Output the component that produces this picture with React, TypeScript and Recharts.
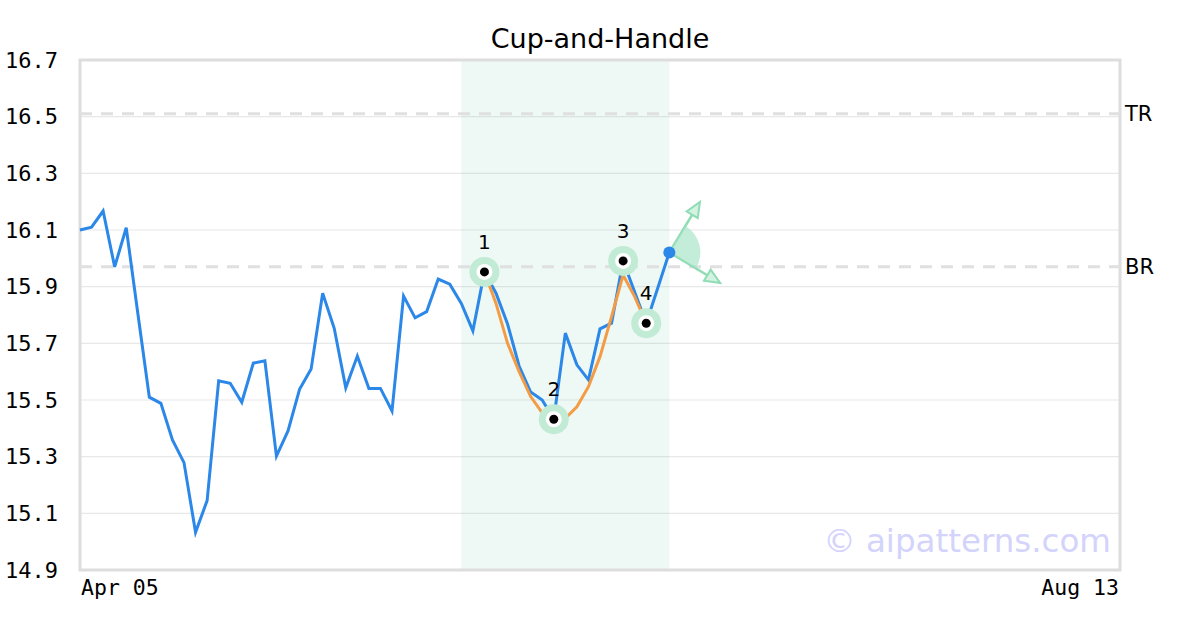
import {CartesianGrid, ComposedChart, Line, ReferenceArea, ReferenceDot, ReferenceLine, Scatter, XAxis, YAxis} from 'recharts';

// closing prices, one per trading day starting Apr 05
const prices = [
    16.10, 16.11, 16.167, 15.97, 16.108, 15.807, 15.51, 15.488, 15.359, 15.279,
    15.033, 15.145, 15.568, 15.559, 15.492, 15.63, 15.638, 15.302, 15.391, 15.538,
    15.609, 15.877, 15.753, 15.543, 15.655, 15.541, 15.541, 15.461, 15.867, 15.79,
    15.812, 15.927, 15.909, 15.841, 15.744, 15.952, 15.877, 15.768, 15.62, 15.528,
    15.50, 15.432, 15.736, 15.624, 15.571, 15.751, 15.771, 15.991, 15.881, 15.771,
    15.895, 16.021
];

// fitted cup curve, starts at day 35
const cupStart = 35;
const cupCurve = [15.952, 15.841, 15.70, 15.60, 15.512, 15.455, 15.432, 15.435, 15.476, 15.547, 15.653, 15.794, 15.941, 15.865, 15.771];

const patternDays = [35, 41, 47, 49];
const patternValues = [15.952, 15.432, 15.991, 15.771];
const patternLabels = ['1', '2', '3', '4'];

const lastDay = 90;
const xTicks = [0, 90];
const xTickLabels = ['Apr 05', 'Aug 13'];
const yTicks = [14.9, 15.1, 15.3, 15.5, 15.7, 15.9, 16.1, 16.3, 16.5, 16.7];

const topResistance = 16.51;
const bottomResistance = 15.97;
const zoneStart = 33;
const zoneEnd = 51;

const upTarget = {x: 53.65, y: 16.199};
const downTarget = {x: 55.4, y: 15.913};

const data = prices.map((price, i) => ({
    i,
    price,
    cup: i >= cupStart && i < cupStart + cupCurve.length ? cupCurve[i - cupStart] : undefined
}));

const patternData = patternDays.map((d, k) => ({i: d, v: patternValues[k], label: patternLabels[k]}));

const BLUE = '#2b87e8';
const ORANGE = '#f39c45';
const GREEN = '#8fdcb5';

const YTick = ({y, payload}: any) => (
    <text x={58} y={y} dy="0.35em" textAnchor="end" fontSize={22} fontFamily="DejaVu Sans Mono" fill="#000">
        {payload.value.toFixed(1)}
    </text>
);

const XTick = ({x, y, payload, index}: any) => (
    <text x={index === 0 ? x + 1 : x - 1} y={y + 17} textAnchor={index === 0 ? 'start' : 'end'} fontSize={21.5} fontFamily="DejaVu Sans Mono" fill="#000">
        {xTickLabels[xTicks.indexOf(payload.value)]}
    </text>
);

const PatternPoint = ({cx, cy, payload}: any) => (
    <g>
        <circle cx={cx} cy={cy} r={15} fill="#c2ebd6"/>
        <circle cx={cx} cy={cy} r={8} fill="#fff"/>
        <circle cx={cx} cy={cy} r={4.5} fill="#000"/>
        <text x={cx} y={cy - 30} dy="0.35em" textAnchor="middle" fontSize={20} fontFamily="DejaVu Sans" fill="#000">
            {payload.label}
        </text>
    </g>
);

const Arrow = ({x1, y1, x2, y2}: any) => {
    const a = Math.atan2(y2 - y1, x2 - x1);
    const len = 15, half = 6.5;
    const bx = x2 - len * Math.cos(a), by = y2 - len * Math.sin(a);
    const px = -Math.sin(a) * half, py = Math.cos(a) * half;
    return (
        <g>
            <line x1={x1} y1={y1} x2={bx} y2={by} stroke={GREEN} strokeWidth={2.5}/>
            <polygon
                points={`${x2},${y2} ${bx + px},${by + py} ${bx - px},${by - py}`}
                fill="#d3f2e2" stroke={GREEN} strokeWidth={2}
            />
        </g>
    );
};

const Wedge = ({cx, cy}: any) => {
    const r = 31;
    const a1 = -58.7 * Math.PI / 180;
    const a2 = 30.5 * Math.PI / 180;
    const d = `M${cx},${cy} L${cx + r * Math.cos(a1)},${cy + r * Math.sin(a1)} A${r},${r} 0 0 1 ${cx + r * Math.cos(a2)},${cy + r * Math.sin(a2)} Z`;
    return <path d={d} fill="#a9e5c7" fillOpacity={0.7}/>;
};

const EndDot = ({cx, cy, index}: any) => {
    if (index !== prices.length - 1) return <g key={index}/>;
    return <circle key={index} cx={cx} cy={cy} r={6} fill={BLUE}/>;
};

const App = () => {
    return (
        <div style={{position: 'absolute', left: 0, top: 0, width: 1200, height: 630, background: '#fff'}}>
            <div style={{
                position: 'absolute', top: 23, width: 1200, textAlign: 'center',
                fontFamily: 'DejaVu Sans', fontSize: 27, color: '#000'
            }}>
                Cup-and-Handle
            </div>
            <ComposedChart width={1200} height={630} data={data} margin={{top: 60, right: 80, left: 0, bottom: 0}}>
                <ReferenceArea x1={zoneStart} x2={zoneEnd} y1={14.9} y2={16.7} fill="#5cbf8f" fillOpacity={0.1} stroke="none"/>
                <CartesianGrid vertical={false} stroke="#e8e8e8" strokeWidth={1.2}/>
                <XAxis
                    type="number"
                    dataKey="i"
                    domain={[0, lastDay]}
                    ticks={xTicks}
                    tick={<XTick/>}
                    tickLine={false}
                    axisLine={false}
                    height={60}
                />
                <YAxis
                    type="number"
                    domain={[14.9, 16.7]}
                    ticks={yTicks}
                    tick={<YTick/>}
                    tickLine={false}
                    axisLine={false}
                    width={80}
                />
                <ReferenceArea x1={0} x2={lastDay} y1={14.9} y2={16.7} fill="none" stroke="#dddddd" strokeWidth={3}/>
                <ReferenceLine
                    y={topResistance}
                    stroke="#e0e0e0"
                    strokeWidth={3}
                    strokeDasharray="12 9"
                    label={{value: 'TR', position: 'right', fill: '#000', fontSize: 21, fontFamily: 'DejaVu Sans'}}
                />
                <ReferenceLine
                    y={bottomResistance}
                    stroke="#e0e0e0"
                    strokeWidth={3}
                    strokeDasharray="12 9"
                    label={{value: 'BR', position: 'right', fill: '#000', fontSize: 21, fontFamily: 'DejaVu Sans'}}
                />
                <ReferenceDot x={prices.length - 1} y={prices[prices.length - 1]} shape={<Wedge/>}/>
                <ReferenceLine segment={[{x: prices.length - 1, y: prices[prices.length - 1]}, upTarget]} shape={<Arrow/>}/>
                <ReferenceLine segment={[{x: prices.length - 1, y: prices[prices.length - 1]}, downTarget]} shape={<Arrow/>}/>
                <Line
                    type="linear"
                    dataKey="price"
                    stroke={BLUE}
                    strokeWidth={3}
                    dot={<EndDot/>}
                    activeDot={false}
                    isAnimationActive={false}
                />
                <Line
                    type="linear"
                    dataKey="cup"
                    stroke={ORANGE}
                    strokeWidth={3}
                    dot={false}
                    activeDot={false}
                    isAnimationActive={false}
                />
                <Scatter data={patternData} dataKey="v" shape={<PatternPoint/>} isAnimationActive={false}/>
            </ComposedChart>
            <div style={{
                position: 'absolute', right: 89, top: 522, fontFamily: 'DejaVu Sans',
                fontSize: 32.5, color: '#d3d3fb', whiteSpace: 'nowrap'
            }}>
                © aipatterns.com
            </div>
        </div>
    );
};

export default App;
